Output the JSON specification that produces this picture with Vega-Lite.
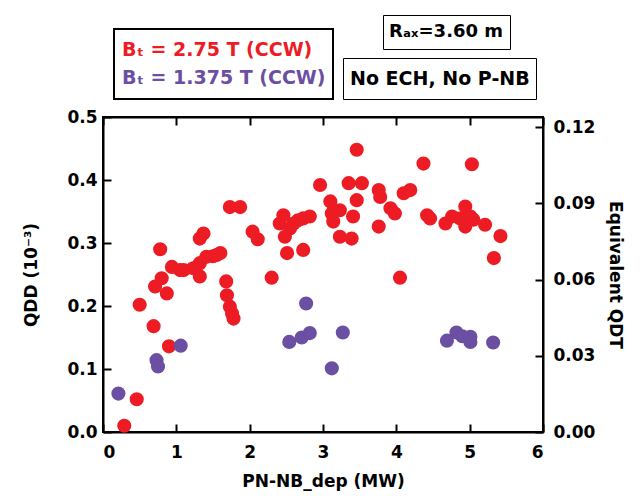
{
  "$schema": "https://vega.github.io/schema/vega-lite/v6.json",
  "width": 440,
  "height": 315,
  "autosize": {"type": "none"},
  "padding": {"left": 103, "top": 117, "right": 98, "bottom": 64},
  "background": "white",
  "config": {
    "view": {"stroke": "black", "strokeWidth": 2},
    "font": "DejaVu Sans",
    "axis": {
      "grid": false,
      "domainColor": "black",
      "domainWidth": 2,
      "tickColor": "black",
      "tickWidth": 2,
      "tickSize": -8,
      "labelFont": "DejaVu Sans",
      "labelFontWeight": "bold",
      "labelFontSize": 17,
      "labelColor": "black",
      "titleFont": "DejaVu Sans",
      "titleFontWeight": "bold",
      "titleFontSize": 17,
      "titleColor": "black"
    },
    "legend": {
      "title": null,
      "orient": "none",
      "strokeColor": "black",
      "symbolOpacity": 0,
      "symbolStrokeWidth": 0,
      "symbolType": "circle",
      "labelFont": "DejaVu Sans",
      "labelFontWeight": "bold",
      "labelLimit": 400
    }
  },
  "data": {
    "values": [
      {"P": 0.29, "Q": 0.010, "series": "Bₜ = 2.75 T (CCW)"},
      {"P": 0.46, "Q": 0.052, "series": "Bₜ = 2.75 T (CCW)"},
      {"P": 0.50, "Q": 0.202, "series": "Bₜ = 2.75 T (CCW)"},
      {"P": 0.69, "Q": 0.168, "series": "Bₜ = 2.75 T (CCW)"},
      {"P": 0.90, "Q": 0.136, "series": "Bₜ = 2.75 T (CCW)"},
      {"P": 0.71, "Q": 0.231, "series": "Bₜ = 2.75 T (CCW)"},
      {"P": 0.80, "Q": 0.244, "series": "Bₜ = 2.75 T (CCW)"},
      {"P": 0.87, "Q": 0.220, "series": "Bₜ = 2.75 T (CCW)"},
      {"P": 0.78, "Q": 0.290, "series": "Bₜ = 2.75 T (CCW)"},
      {"P": 0.94, "Q": 0.262, "series": "Bₜ = 2.75 T (CCW)"},
      {"P": 1.05, "Q": 0.257, "series": "Bₜ = 2.75 T (CCW)"},
      {"P": 1.10, "Q": 0.257, "series": "Bₜ = 2.75 T (CCW)"},
      {"P": 1.23, "Q": 0.260, "series": "Bₜ = 2.75 T (CCW)"},
      {"P": 1.32, "Q": 0.247, "series": "Bₜ = 2.75 T (CCW)"},
      {"P": 1.32, "Q": 0.268, "series": "Bₜ = 2.75 T (CCW)"},
      {"P": 1.41, "Q": 0.278, "series": "Bₜ = 2.75 T (CCW)"},
      {"P": 1.50, "Q": 0.279, "series": "Bₜ = 2.75 T (CCW)"},
      {"P": 1.55, "Q": 0.281, "series": "Bₜ = 2.75 T (CCW)"},
      {"P": 1.60, "Q": 0.284, "series": "Bₜ = 2.75 T (CCW)"},
      {"P": 1.32, "Q": 0.307, "series": "Bₜ = 2.75 T (CCW)"},
      {"P": 1.37, "Q": 0.315, "series": "Bₜ = 2.75 T (CCW)"},
      {"P": 1.68, "Q": 0.239, "series": "Bₜ = 2.75 T (CCW)"},
      {"P": 1.69, "Q": 0.217, "series": "Bₜ = 2.75 T (CCW)"},
      {"P": 1.73, "Q": 0.199, "series": "Bₜ = 2.75 T (CCW)"},
      {"P": 1.76, "Q": 0.188, "series": "Bₜ = 2.75 T (CCW)"},
      {"P": 1.78, "Q": 0.180, "series": "Bₜ = 2.75 T (CCW)"},
      {"P": 1.73, "Q": 0.357, "series": "Bₜ = 2.75 T (CCW)"},
      {"P": 1.87, "Q": 0.357, "series": "Bₜ = 2.75 T (CCW)"},
      {"P": 2.04, "Q": 0.318, "series": "Bₜ = 2.75 T (CCW)"},
      {"P": 2.11, "Q": 0.306, "series": "Bₜ = 2.75 T (CCW)"},
      {"P": 2.30, "Q": 0.245, "series": "Bₜ = 2.75 T (CCW)"},
      {"P": 2.41, "Q": 0.331, "series": "Bₜ = 2.75 T (CCW)"},
      {"P": 2.46, "Q": 0.344, "series": "Bₜ = 2.75 T (CCW)"},
      {"P": 2.48, "Q": 0.310, "series": "Bₜ = 2.75 T (CCW)"},
      {"P": 2.55, "Q": 0.323, "series": "Bₜ = 2.75 T (CCW)"},
      {"P": 2.51, "Q": 0.284, "series": "Bₜ = 2.75 T (CCW)"},
      {"P": 2.60, "Q": 0.331, "series": "Bₜ = 2.75 T (CCW)"},
      {"P": 2.66, "Q": 0.336, "series": "Bₜ = 2.75 T (CCW)"},
      {"P": 2.73, "Q": 0.339, "series": "Bₜ = 2.75 T (CCW)"},
      {"P": 2.82, "Q": 0.342, "series": "Bₜ = 2.75 T (CCW)"},
      {"P": 2.73, "Q": 0.289, "series": "Bₜ = 2.75 T (CCW)"},
      {"P": 2.96, "Q": 0.392, "series": "Bₜ = 2.75 T (CCW)"},
      {"P": 3.10, "Q": 0.366, "series": "Bₜ = 2.75 T (CCW)"},
      {"P": 3.12, "Q": 0.347, "series": "Bₜ = 2.75 T (CCW)"},
      {"P": 3.14, "Q": 0.334, "series": "Bₜ = 2.75 T (CCW)"},
      {"P": 3.23, "Q": 0.352, "series": "Bₜ = 2.75 T (CCW)"},
      {"P": 3.23, "Q": 0.310, "series": "Bₜ = 2.75 T (CCW)"},
      {"P": 3.35, "Q": 0.395, "series": "Bₜ = 2.75 T (CCW)"},
      {"P": 3.39, "Q": 0.307, "series": "Bₜ = 2.75 T (CCW)"},
      {"P": 3.41, "Q": 0.342, "series": "Bₜ = 2.75 T (CCW)"},
      {"P": 3.46, "Q": 0.368, "series": "Bₜ = 2.75 T (CCW)"},
      {"P": 3.46, "Q": 0.448, "series": "Bₜ = 2.75 T (CCW)"},
      {"P": 3.53, "Q": 0.395, "series": "Bₜ = 2.75 T (CCW)"},
      {"P": 3.76, "Q": 0.326, "series": "Bₜ = 2.75 T (CCW)"},
      {"P": 3.76, "Q": 0.384, "series": "Bₜ = 2.75 T (CCW)"},
      {"P": 3.78, "Q": 0.373, "series": "Bₜ = 2.75 T (CCW)"},
      {"P": 3.92, "Q": 0.355, "series": "Bₜ = 2.75 T (CCW)"},
      {"P": 3.98, "Q": 0.347, "series": "Bₜ = 2.75 T (CCW)"},
      {"P": 4.05, "Q": 0.245, "series": "Bₜ = 2.75 T (CCW)"},
      {"P": 4.10, "Q": 0.379, "series": "Bₜ = 2.75 T (CCW)"},
      {"P": 4.19, "Q": 0.384, "series": "Bₜ = 2.75 T (CCW)"},
      {"P": 4.37, "Q": 0.426, "series": "Bₜ = 2.75 T (CCW)"},
      {"P": 4.42, "Q": 0.344, "series": "Bₜ = 2.75 T (CCW)"},
      {"P": 4.46, "Q": 0.339, "series": "Bₜ = 2.75 T (CCW)"},
      {"P": 4.67, "Q": 0.331, "series": "Bₜ = 2.75 T (CCW)"},
      {"P": 4.76, "Q": 0.342, "series": "Bₜ = 2.75 T (CCW)"},
      {"P": 4.87, "Q": 0.339, "series": "Bₜ = 2.75 T (CCW)"},
      {"P": 4.94, "Q": 0.358, "series": "Bₜ = 2.75 T (CCW)"},
      {"P": 4.94, "Q": 0.326, "series": "Bₜ = 2.75 T (CCW)"},
      {"P": 5.01, "Q": 0.342, "series": "Bₜ = 2.75 T (CCW)"},
      {"P": 5.05, "Q": 0.337, "series": "Bₜ = 2.75 T (CCW)"},
      {"P": 5.03, "Q": 0.425, "series": "Bₜ = 2.75 T (CCW)"},
      {"P": 5.21, "Q": 0.329, "series": "Bₜ = 2.75 T (CCW)"},
      {"P": 5.42, "Q": 0.311, "series": "Bₜ = 2.75 T (CCW)"},
      {"P": 5.33, "Q": 0.276, "series": "Bₜ = 2.75 T (CCW)"},
      {"P": 0.21, "Q": 0.061, "series": "Bₜ = 1.375 T (CCW)"},
      {"P": 0.73, "Q": 0.114, "series": "Bₜ = 1.375 T (CCW)"},
      {"P": 0.75, "Q": 0.104, "series": "Bₜ = 1.375 T (CCW)"},
      {"P": 1.06, "Q": 0.137, "series": "Bₜ = 1.375 T (CCW)"},
      {"P": 2.54, "Q": 0.143, "series": "Bₜ = 1.375 T (CCW)"},
      {"P": 2.71, "Q": 0.150, "series": "Bₜ = 1.375 T (CCW)"},
      {"P": 2.82, "Q": 0.157, "series": "Bₜ = 1.375 T (CCW)"},
      {"P": 2.77, "Q": 0.204, "series": "Bₜ = 1.375 T (CCW)"},
      {"P": 3.12, "Q": 0.101, "series": "Bₜ = 1.375 T (CCW)"},
      {"P": 3.27, "Q": 0.158, "series": "Bₜ = 1.375 T (CCW)"},
      {"P": 4.69, "Q": 0.145, "series": "Bₜ = 1.375 T (CCW)"},
      {"P": 4.82, "Q": 0.158, "series": "Bₜ = 1.375 T (CCW)"},
      {"P": 4.90, "Q": 0.152, "series": "Bₜ = 1.375 T (CCW)"},
      {"P": 5.01, "Q": 0.151, "series": "Bₜ = 1.375 T (CCW)"},
      {"P": 5.01, "Q": 0.143, "series": "Bₜ = 1.375 T (CCW)"},
      {"P": 5.32, "Q": 0.142, "series": "Bₜ = 1.375 T (CCW)"}
    ]
  },
  "layer": [
    {
      "mark": {"type": "circle", "size": 200, "opacity": 1},
      "encoding": {
        "x": {
          "field": "P", "type": "quantitative",
          "scale": {"domain": [0, 6], "nice": false, "zero": false},
          "axis": {"values": [0, 1, 2, 3, 4, 5, 6], "labelPadding": 20, "title": "PN-NB_dep (MW)", "titlePadding": 13}
        },
        "y": {
          "field": "Q", "type": "quantitative",
          "scale": {"domain": [0, 0.5], "nice": false},
          "axis": {"values": [0, 0.1, 0.2, 0.3, 0.4, 0.5], "format": ".1f", "labelPadding": 14, "title": "QDD (10⁻³)", "titlePadding": 26}
        },
        "color": {
          "field": "series", "type": "nominal",
          "scale": {"domain": ["Bₜ = 2.75 T (CCW)", "Bₜ = 1.375 T (CCW)"], "range": ["#ED1C24", "#6A4FA3"]},
          "legend": {
            "legendX": 11, "legendY": -88,
            "padding": 7, "symbolSize": 784, "labelOffset": -27,
            "labelFontSize": 19, "rowPadding": -1,
            "encode": {
              "labels": {"update": {"fill": [{"test": "indexof(datum.value, '2.75') >= 0", "value": "#ED1C24"}, {"value": "#6A4FA3"}]}},
              "symbols": {"update": {"size": {"value": 784}, "opacity": {"value": 0}}},
              "legend": {"update": {"strokeWidth": {"value": 2}}}
            }
          }
        }
      }
    },
    {
      "mark": {"type": "point", "opacity": 0},
      "encoding": {
        "x": {
          "field": "P", "type": "quantitative",
          "axis": {"orient": "top", "labels": false, "title": null, "values": [0, 1, 2, 3, 4, 5, 6]}
        },
        "y": {
          "field": "Q", "type": "quantitative",
          "axis": {
            "orient": "right", "values": [0, 0.121, 0.242, 0.363, 0.484],
            "labelExpr": "format(datum.value * 0.248, '.2f')", "labelPadding": 18,
            "title": "Equivalent QDT", "titleAngle": 90, "titlePadding": 11
          }
        },
        "shape": {
          "datum": "Rₐₓ=3.60 m", "type": "nominal",
          "legend": {
            "legendX": 280, "legendY": -102,
            "padding": 6, "symbolSize": 484, "labelOffset": -22,
            "labelFontSize": 18, "labelColor": "black",
            "encode": {
              "symbols": {"update": {"size": {"value": 484}, "opacity": {"value": 0}}},
              "legend": {"update": {"strokeWidth": {"value": 2}}}
            }
          }
        },
        "strokeDash": {
          "datum": "No ECH, No P-NB", "type": "nominal",
          "legend": {
            "legendX": 240, "legendY": -59,
            "padding": 6, "symbolSize": 841, "labelOffset": -28,
            "labelFontSize": 19, "labelColor": "black",
            "encode": {
              "symbols": {"update": {"size": {"value": 841}, "opacity": {"value": 0}}},
              "legend": {"update": {"strokeWidth": {"value": 2}}}
            }
          }
        }
      }
    }
  ],
  "resolve": {"axis": {"x": "independent", "y": "independent"}}
}
